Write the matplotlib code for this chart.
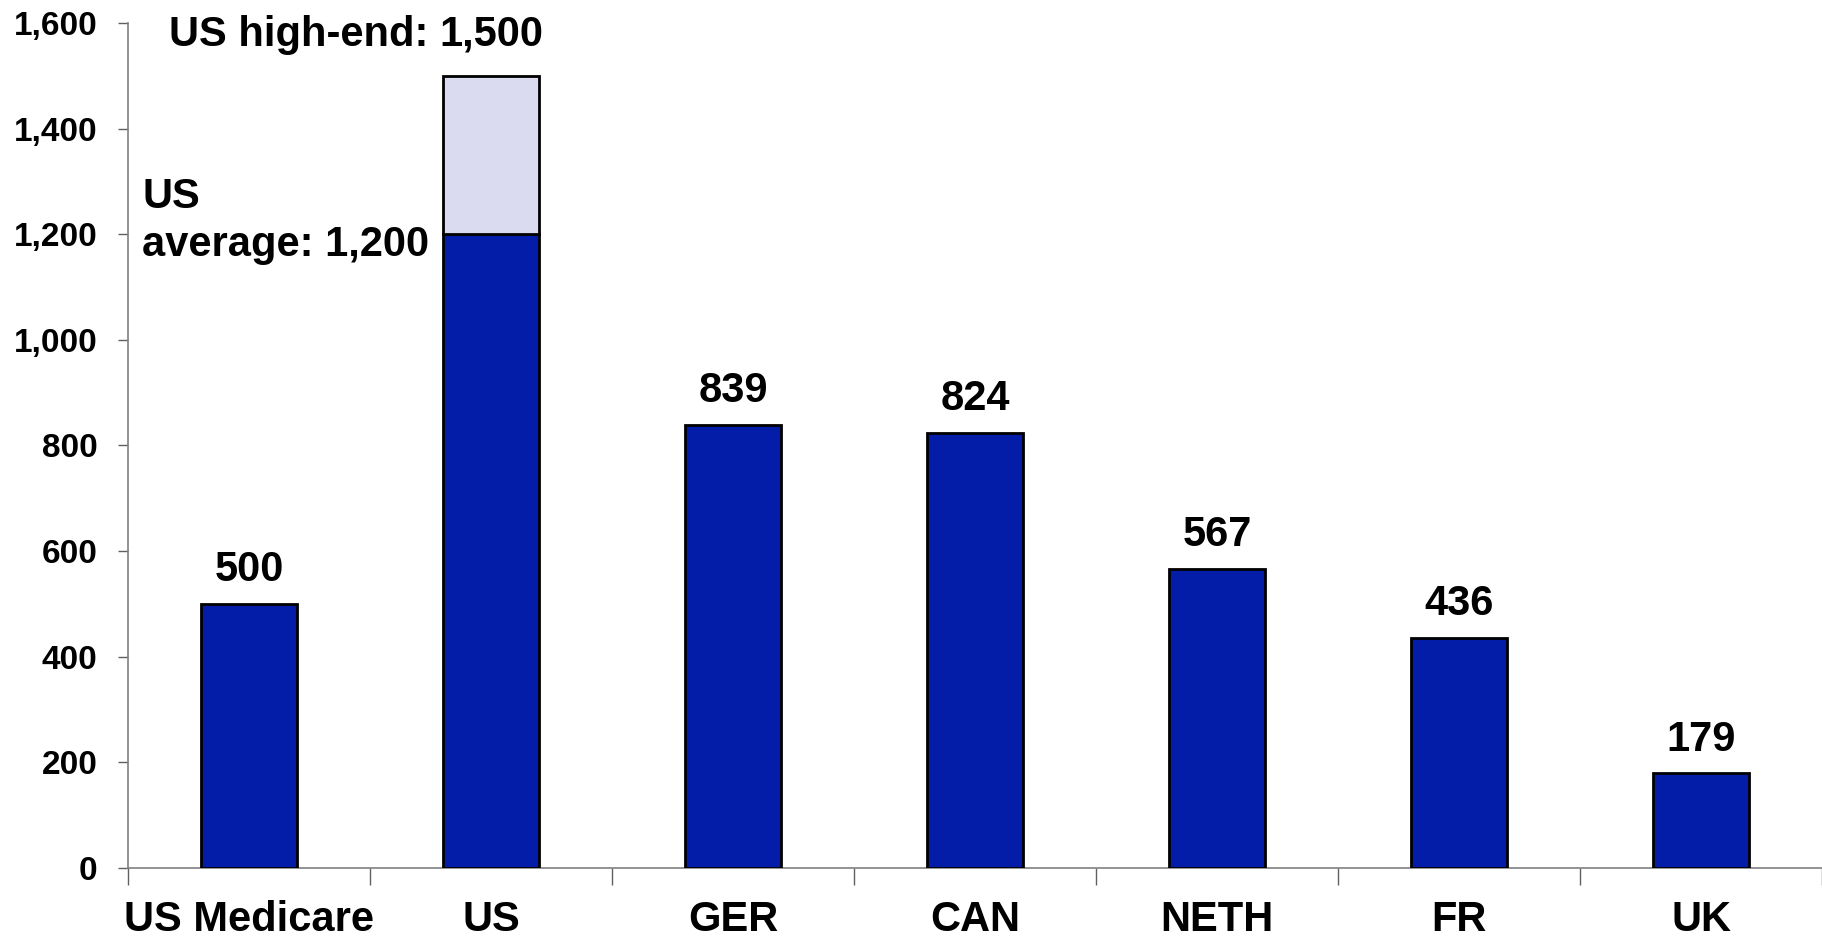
import numpy as np
import matplotlib.pyplot as plt
from matplotlib.ticker import FuncFormatter

plt.rcParams['font.family'] = ['Liberation Sans', 'DejaVu Sans']
plt.rcParams['font.weight'] = 'bold'

categories = ["US Medicare", "US", "GER", "CAN", "NETH", "FR", "UK"]
base_values = [500, 1200, 839, 824, 567, 436, 179]
high_end_extra = [0, 300, 0, 0, 0, 0, 0]
value_labels = ["500", "1,500", "839", "824", "567", "436", "179"]

dark_blue = "#031DA8"
light_blue = "#DADAF0"

fig = plt.figure(figsize=(18.22, 9.41), dpi=100)
ax = fig.add_axes([0.0703, 0.0776, 0.9297, 0.898])

x = np.arange(len(categories))
ax.bar(x, base_values, width=0.4, color=dark_blue, edgecolor="black", linewidth=2, zorder=3)
ax.bar(x, high_end_extra, width=0.4, bottom=base_values, color=light_blue,
       edgecolor="black", linewidth=2, zorder=3)
# hide the empty stacked segments' outlines
for patch, extra in zip(ax.patches[len(categories):], high_end_extra):
    if extra == 0:
        patch.set_visible(False)

top_label_y = 1578
totals = [b + e for b, e in zip(base_values, high_end_extra)]
for xi, tot, lab, extra in zip(x, totals, value_labels, high_end_extra):
    if extra > 0:
        # the high-end value sits in line with its caption
        ax.text(xi, top_label_y, lab, ha="center", va="center", fontsize=30, fontweight="bold")
    else:
        ax.annotate(lab, (xi, tot), xytext=(0, 10), textcoords="offset points",
                    ha="center", va="bottom", fontsize=30, fontweight="bold")

ax.text(0.74, top_label_y, "US high-end:", ha="right", va="center", fontsize=30, fontweight="bold")
ax.text(-0.442, 1225, "US\naverage: 1,200", ha="left", va="center", fontsize=30,
        fontweight="bold", linespacing=1.25)

ax.set_xlim(-0.5, len(categories) - 0.5)
ax.set_ylim(0, 1600)
ax.set_yticks(np.arange(0, 1601, 200))
ax.yaxis.set_major_formatter(FuncFormatter(lambda v, p: f"{int(v):,}"))

ax.set_xticks(np.arange(-0.5, len(categories), 1.0))
ax.set_xticklabels([])
ax.set_xticks(x, minor=True)
ax.set_xticklabels(categories, minor=True)

ax.tick_params(axis="x", which="major", length=12, width=1, color="#606060", direction="out")
ax.tick_params(axis="x", which="minor", length=0, pad=23, labelsize=30)
ax.tick_params(axis="y", length=7, width=1, color="#606060", direction="out", pad=15, labelsize=24)
for lab in ax.get_xticklabels(minor=True) + ax.get_yticklabels():
    lab.set_fontweight("bold")

for side in ["top", "right"]:
    ax.spines[side].set_visible(False)
for side in ["left", "bottom"]:
    ax.spines[side].set_color("#808080")
    ax.spines[side].set_linewidth(1.2)

fig.savefig("out.png", dpi=100)
